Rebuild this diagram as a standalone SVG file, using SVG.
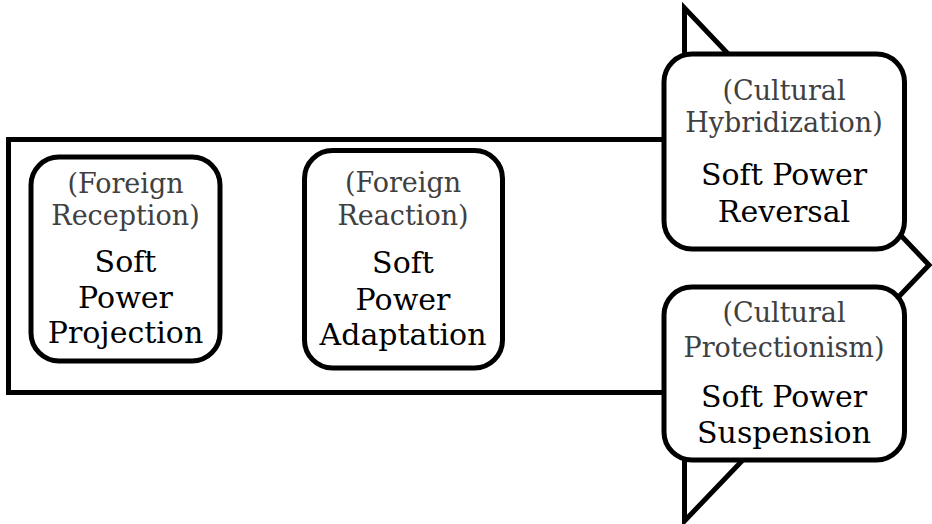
<svg xmlns="http://www.w3.org/2000/svg" width="932" height="524" viewBox="0 0 932 524">
<style>
.shape{fill:#fff;stroke:#000;stroke-width:5;stroke-linejoin:miter}
.box{fill:#fff;stroke:#000;stroke-width:5}
.sub{font-family:"DejaVu Serif","Liberation Serif",serif;font-size:27px;fill:#404040;text-anchor:middle}
.main{font-family:"DejaVu Serif","Liberation Serif",serif;font-size:30px;fill:#000;text-anchor:middle}
</style>
<rect width="932" height="524" fill="#fff"/>
<g id="arrow">
<path class="shape" d="M8.5,139.5 L684.5,139.5 L684.5,8 L929,265 L684.5,521 L684.5,392.5 L8.5,392.5 Z"/>
</g>
<g id="projection">
<rect class="box" x="31" y="157" width="189" height="204" rx="28"/>
<text class="sub" x="125.5" y="193">(Foreign</text>
<text class="sub" x="125.5" y="225">Reception)</text>
<text class="main" x="125.5" y="272">Soft</text>
<text class="main" x="125.5" y="308">Power</text>
<text class="main" x="125.5" y="343">Projection</text>
</g>
<g id="adaptation">
<rect class="box" x="304.5" y="150.5" width="198" height="217.5" rx="28"/>
<text class="sub" x="403" y="192">(Foreign</text>
<text class="sub" x="403" y="225">Reaction)</text>
<text class="main" x="403" y="273">Soft</text>
<text class="main" x="403" y="310">Power</text>
<text class="main" x="403" y="345">Adaptation</text>
</g>
<g id="reversal">
<rect class="box" x="664" y="54" width="240.5" height="195" rx="28"/>
<text class="sub" x="784" y="100">(Cultural</text>
<text class="sub" x="784" y="132">Hybridization)</text>
<text class="main" x="784" y="185">Soft Power</text>
<text class="main" x="784" y="222">Reversal</text>
</g>
<g id="suspension">
<rect class="box" x="664" y="287" width="240.5" height="173" rx="28"/>
<text class="sub" x="784" y="322">(Cultural</text>
<text class="sub" x="784" y="357">Protectionism)</text>
<text class="main" x="784" y="407">Soft Power</text>
<text class="main" x="784" y="443">Suspension</text>
</g>
<g id="connectors"></g>
</svg>
